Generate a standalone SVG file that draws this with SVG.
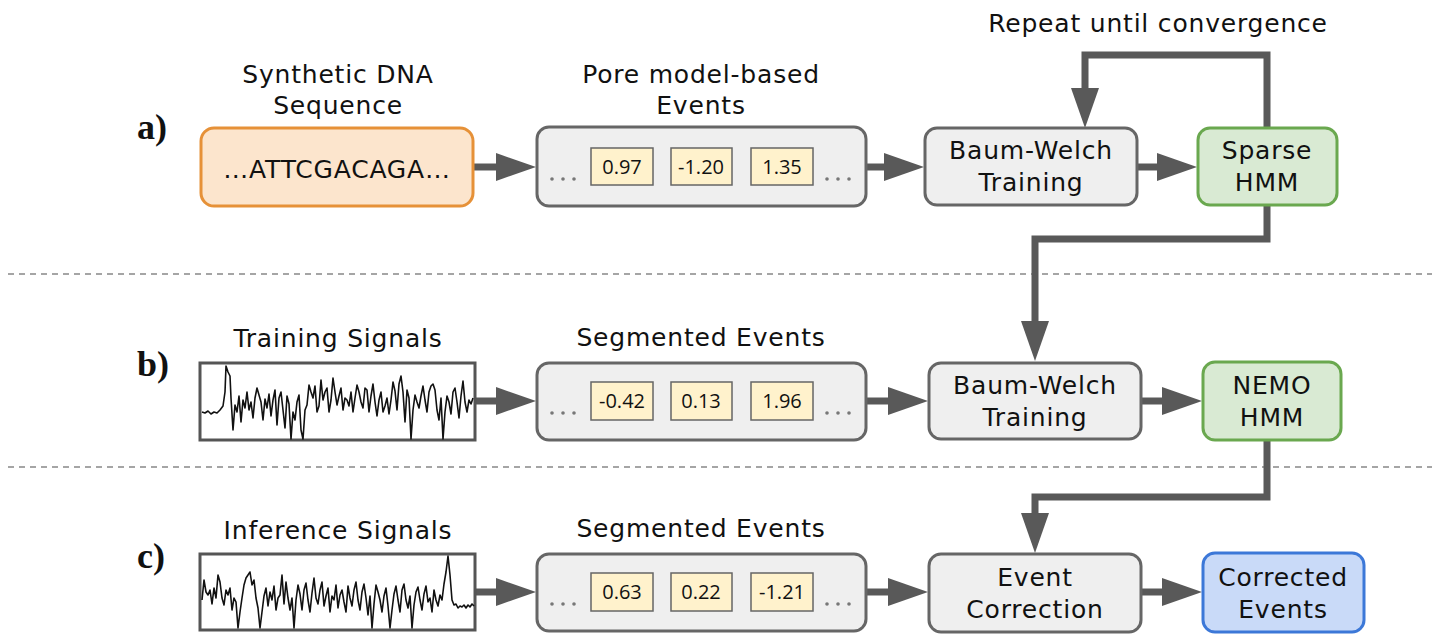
<svg xmlns="http://www.w3.org/2000/svg" width="1440" height="643" viewBox="0 0 1440 643">
<style>
text{font-family:"DejaVu Sans","Open Sans",sans-serif;fill:#111;}
.lbl{font-size:25px;text-anchor:middle;letter-spacing:0.8px;}
.box{font-size:25px;text-anchor:middle;letter-spacing:0.8px;}
.val{font-family:"Open Sans","DejaVu Sans",sans-serif;font-size:20px;text-anchor:middle;}
.row{font-family:"Liberation Serif",serif;font-size:36px;font-weight:bold;}
.gray{fill:#efefef;stroke:#666;stroke-width:3;}
.orange{fill:#fce5cd;stroke:#e69138;stroke-width:3;}
.green{fill:#d9ead3;stroke:#6aa84f;stroke-width:3;}
.blue{fill:#c9daf8;stroke:#3c78d8;stroke-width:3;}
.cell{fill:#fff2cc;stroke:#666;stroke-width:1.5;}
.sig{fill:#fff;stroke:#555;stroke-width:3;}
.wave{fill:none;stroke:#111;stroke-width:1.6;stroke-linejoin:round;}
.dot{fill:#777;}
.conn{fill:none;stroke:#595959;stroke-width:7;marker-end:url(#ah);}
.dash{stroke:#888;stroke-width:1.5;stroke-dasharray:6 5;}
</style>
<defs>
<marker id="ah" viewBox="0 -14 40 28" refX="1" refY="0" markerWidth="40" markerHeight="28" markerUnits="userSpaceOnUse" orient="auto">
<path d="M0,-14 L40,0 L0,14 Z" fill="#595959"/>
</marker>
</defs>

<line class="dash" x1="8" y1="274" x2="1432" y2="274"/>
<line class="dash" x1="8" y1="467" x2="1432" y2="467"/>

<text class="row" x="137" y="139">a)</text>
<text class="row" x="137" y="376">b)</text>
<text class="row" x="137" y="568">c)</text>

<text class="lbl" x="338" y="83">Synthetic DNA</text>
<text class="lbl" x="338" y="114">Sequence</text>
<text class="lbl" x="701" y="83">Pore model-based</text>
<text class="lbl" x="701" y="114">Events</text>
<text class="lbl" x="1158" y="32">Repeat until convergence</text>
<text class="lbl" x="338" y="347">Training Signals</text>
<text class="lbl" x="701" y="346">Segmented Events</text>
<text class="lbl" x="338" y="539">Inference Signals</text>
<text class="lbl" x="701" y="537">Segmented Events</text>

<g id="connectors">
<line class="conn" x1="473" y1="167" x2="497" y2="167"/>
<line class="conn" x1="866" y1="167" x2="885" y2="167"/>
<line class="conn" x1="1137" y1="167" x2="1158" y2="167"/>
<path class="conn" d="M1267,128 V55 H1085 V89"/>
<path class="conn" d="M1267,205 V239 H1035 V322"/>
<line class="conn" x1="476" y1="401" x2="497" y2="401"/>
<line class="conn" x1="866" y1="401" x2="889" y2="401"/>
<line class="conn" x1="1141" y1="401" x2="1163" y2="401"/>
<path class="conn" d="M1267,440 V497 H1035 V514"/>
<line class="conn" x1="476" y1="592" x2="497" y2="592"/>
<line class="conn" x1="866" y1="592" x2="889" y2="592"/>
<line class="conn" x1="1141" y1="592" x2="1163" y2="592"/>
</g>

<g id="dna">
<rect class="orange" x="201" y="128" width="272" height="78" rx="13"/>
<text class="box" x="337" y="178">…ATTCGACAGA…</text>
</g>

<g id="events-a">
<rect class="gray" x="537" y="127" width="329" height="79" rx="12"/>
<circle class="dot" cx="552" cy="179" r="1.8"/><circle class="dot" cx="563" cy="179" r="1.8"/><circle class="dot" cx="574" cy="179" r="1.8"/>
<circle class="dot" cx="827" cy="179" r="1.8"/><circle class="dot" cx="838" cy="179" r="1.8"/><circle class="dot" cx="849" cy="179" r="1.8"/>
<rect class="cell" x="591" y="148" width="62" height="37"/><text class="val" x="622" y="174">0.97</text>
<rect class="cell" x="671" y="148" width="61" height="37"/><text class="val" x="701" y="174">-1.20</text>
<rect class="cell" x="751" y="148" width="62" height="37"/><text class="val" x="782" y="174">1.35</text>
</g>

<g id="bw-a">
<rect class="gray" x="925" y="128" width="212" height="77" rx="12"/>
<text class="box" x="1031" y="159">Baum-Welch</text>
<text class="box" x="1031" y="191">Training</text>
</g>

<g id="sparse">
<rect class="green" x="1198" y="128" width="139" height="77" rx="12"/>
<text class="box" x="1267" y="159">Sparse</text>
<text class="box" x="1267" y="191">HMM</text>
</g>

<g id="train-sig">
<rect class="sig" x="200" y="363" width="275" height="77"/>
<polyline class="wave" points="202,412 205,413 208,411 211,414 214,412 217,413 220,410 223,406 225,392 226,366 228,372 230,376 231,398 233,430 235,405 237,412 239,396 241,422 243,400 245,408 247,392 249,410 251,402 253,418 255,398 257,388 259,395 261,402 263,420 265,399 267,408 269,394 271,416 273,400 275,390 277,425 279,398 281,392 283,410 285,428 287,396 289,404 291,439 293,412 295,420 297,402 299,395 301,430 303,439 305,410 307,405 309,385 311,392 313,398 315,386 317,412 319,406 321,380 323,400 325,392 327,388 329,412 331,400 333,378 335,392 337,405 339,396 341,388 343,410 345,398 347,400 349,406 351,392 353,412 355,398 357,385 359,392 361,402 363,408 365,388 367,390 369,412 371,396 373,384 375,402 377,416 379,400 381,392 383,412 385,406 387,398 389,414 391,400 393,382 395,391 397,410 399,384 401,376 403,392 405,422 407,390 409,398 411,439 413,410 415,395 417,402 419,408 421,396 423,386 425,400 427,412 429,392 431,386 433,384 435,390 437,410 439,420 441,398 443,439 445,412 447,396 449,402 451,414 453,392 455,388 457,402 459,418 461,396 463,381 465,402 467,412 469,400 471,404 473,398"/>
</g>

<g id="events-b">
<rect class="gray" x="537" y="363" width="329" height="77" rx="12"/>
<circle class="dot" cx="552" cy="413" r="1.8"/><circle class="dot" cx="563" cy="413" r="1.8"/><circle class="dot" cx="574" cy="413" r="1.8"/>
<circle class="dot" cx="827" cy="413" r="1.8"/><circle class="dot" cx="838" cy="413" r="1.8"/><circle class="dot" cx="849" cy="413" r="1.8"/>
<rect class="cell" x="591" y="382" width="62" height="38"/><text class="val" x="622" y="408">-0.42</text>
<rect class="cell" x="671" y="382" width="61" height="38"/><text class="val" x="701" y="408">0.13</text>
<rect class="cell" x="751" y="382" width="62" height="38"/><text class="val" x="782" y="408">1.96</text>
</g>

<g id="bw-b">
<rect class="gray" x="929" y="363" width="212" height="76" rx="12"/>
<text class="box" x="1035" y="394">Baum-Welch</text>
<text class="box" x="1035" y="426">Training</text>
</g>

<g id="nemo">
<rect class="green" x="1203" y="362" width="138" height="78" rx="12"/>
<text class="box" x="1272" y="394">NEMO</text>
<text class="box" x="1272" y="426">HMM</text>
</g>

<g id="inf-sig">
<rect class="sig" x="200" y="554" width="275" height="76"/>
<polyline class="wave" points="202,600 204,580 206,592 208,595 210,590 212,604 214,588 216,598 218,575 220,582 222,598 224,605 226,590 228,595 230,588 232,610 234,598 236,602 238,628 240,612 242,598 244,585 246,578 248,575 250,572 252,585 254,580 256,598 258,608 260,628 262,612 264,596 266,588 268,606 270,592 272,600 274,586 276,610 278,598 280,595 282,575 284,604 286,582 288,598 290,610 292,598 294,628 296,600 298,585 300,594 302,610 304,590 306,583 308,600 310,612 312,593 314,578 316,598 318,604 320,590 322,582 324,606 326,596 328,588 330,612 332,596 334,600 336,585 338,608 340,595 342,590 344,602 346,612 348,586 350,598 352,606 354,590 356,582 358,600 360,610 362,592 364,584 366,598 368,615 370,596 372,628 374,604 376,585 378,592 380,600 382,612 384,596 386,588 388,606 390,628 392,610 394,594 396,586 398,600 400,612 402,590 404,584 406,600 408,608 410,596 412,628 414,605 416,592 418,587 420,600 422,610 424,594 426,586 428,602 430,598 432,612 434,590 436,600 438,606 440,595 442,600 444,584 446,572 448,556 450,575 452,600 454,605 456,604 458,608 460,606 462,607 464,605 466,608 468,605 470,607 472,604 474,606"/>
</g>

<g id="events-c">
<rect class="gray" x="537" y="554" width="329" height="77" rx="12"/>
<circle class="dot" cx="552" cy="604" r="1.8"/><circle class="dot" cx="563" cy="604" r="1.8"/><circle class="dot" cx="574" cy="604" r="1.8"/>
<circle class="dot" cx="827" cy="604" r="1.8"/><circle class="dot" cx="838" cy="604" r="1.8"/><circle class="dot" cx="849" cy="604" r="1.8"/>
<rect class="cell" x="591" y="573" width="62" height="38"/><text class="val" x="622" y="599">0.63</text>
<rect class="cell" x="671" y="573" width="61" height="38"/><text class="val" x="701" y="599">0.22</text>
<rect class="cell" x="751" y="573" width="62" height="38"/><text class="val" x="782" y="599">-1.21</text>
</g>

<g id="event-correction">
<rect class="gray" x="929" y="554" width="212" height="78" rx="12"/>
<text class="box" x="1035" y="586">Event</text>
<text class="box" x="1035" y="618">Correction</text>
</g>

<g id="corrected">
<rect class="blue" x="1203" y="553" width="161" height="79" rx="12"/>
<text class="box" x="1283" y="586">Corrected</text>
<text class="box" x="1283" y="618">Events</text>
</g>
</svg>
